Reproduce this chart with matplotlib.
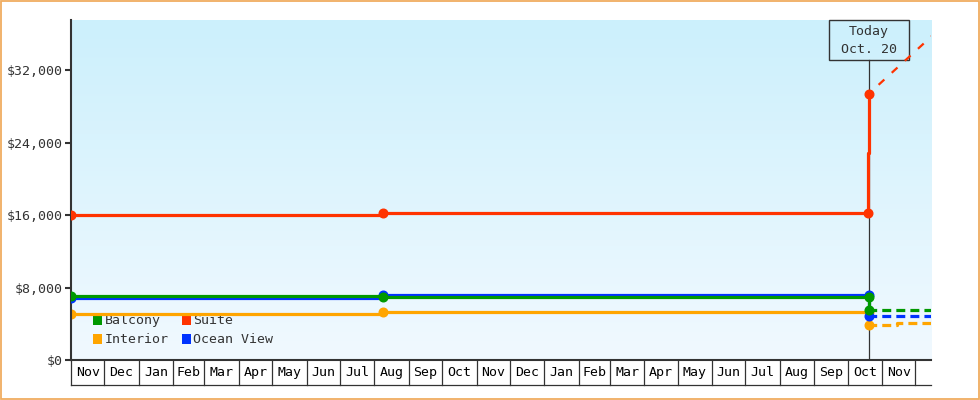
import numpy as np
import pandas as pd
import matplotlib
matplotlib.use('Agg')
import matplotlib.pyplot as plt
import matplotlib.dates as mdates
import matplotlib.transforms as mtransforms
from matplotlib.patches import Rectangle, Patch

# 가격 데이터
balcony_dates = ['2016-11-01', '2017-08-09', '2018-10-20', '2018-10-20']
balcony_vals = [7030, 6960, 6960, 5520]
balcony_fc_dates = ['2018-10-20', '2018-12-20']
balcony_fc_vals = [5520, 5520]

ocean_dates = ['2016-11-01', '2017-08-09', '2018-10-20', '2018-10-20']
ocean_vals = [6800, 7200, 7200, 4890]
ocean_fc_dates = ['2018-10-20', '2018-12-20']
ocean_fc_vals = [4890, 4890]

interior_dates = ['2016-11-01', '2017-08-09', '2018-10-20', '2018-10-20']
interior_vals = [5075, 5300, 5300, 3900]
interior_fc_dates = ['2018-10-20', '2018-11-14', '2018-12-20']
interior_fc_vals = [3900, 4080, 4080]

suite_dates = ['2016-11-01', '2017-08-09', '2018-10-19', '2018-10-19', '2018-10-20']
suite_vals = [16000, 16220, 16220, 22900, 29400]
suite_marks = [0, 1, 2, 4]
suite_fc_dates = ['2018-10-20', '2018-12-20']
suite_fc_vals = [29400, 36250]

today = '2018-10-20'
today_label = 'Today\nOct. 20'
x_start, x_end = '2016-11-01', '2018-12-15'
y_ticks = [0, 8000, 16000, 24000, 32000]

colors = {'Balcony': '#009900', 'Suite': '#ff3300',
          'Interior': '#ffa500', 'Ocean View': '#0033ff'}
dark = '#333333'
font = 'DejaVu Sans Mono'
fs = 9.5

plt.rcParams['font.family'] = [font]

fig = plt.figure(figsize=(9.8, 4), dpi=100)
ax = fig.add_axes([71 / 980, 40 / 400, 860 / 980, 340 / 400])

# 배경 그라데이션
top = np.array([204, 240, 252]) / 255
bot = np.array([241, 249, 255]) / 255
t = np.linspace(0, 1, 256)[:, None]
grad = (top * (1 - t) + bot * t)[:, None, :]
ax.imshow(grad, extent=[0, 1, 0, 1], transform=ax.transAxes, aspect='auto', zorder=0)

d = lambda s: pd.to_datetime(s)

# 오늘 표시선
trans = mtransforms.blended_transform_factory(ax.transData, ax.transAxes)
tx = mdates.date2num(d(today))
box_bottom = 300 / 340
ax.plot([tx, tx], [0, box_bottom], transform=trans, color=dark, lw=0.9, zorder=1)
ax.add_patch(Rectangle((tx - 36, box_bottom), 72, 40 / 340, transform=trans,
                       facecolor='none', edgecolor=dark, lw=1.0, zorder=5, clip_on=False))
ax.text(tx, box_bottom + 19.5 / 340, today_label, transform=trans, ha='center', va='center',
        fontsize=fs, color=dark, linespacing=1.45, zorder=6)

lw = 2.3
ms = 6.2

def series(dates, vals, fc_dates, fc_vals, color, marks, z):
    ax.plot(d(dates), vals, drawstyle='steps-post', color=color, lw=lw, zorder=z,
            solid_capstyle='butt')
    ax.plot(d(dates)[marks], np.array(vals)[marks], 'o', color=color, ms=ms, zorder=z + 0.5)
    ax.plot(d(fc_dates), fc_vals, drawstyle='steps-post', color=color, lw=2.3,
            linestyle=(-4, (2.8, 1.6)), zorder=z, dash_capstyle='butt')

series(interior_dates, interior_vals, interior_fc_dates, interior_fc_vals,
       colors['Interior'], [0, 1, 2, 3], 2)
series(ocean_dates, ocean_vals, ocean_fc_dates, ocean_fc_vals,
       colors['Ocean View'], [0, 1, 2, 3], 3)
series(balcony_dates, balcony_vals, balcony_fc_dates, balcony_fc_vals,
       colors['Balcony'], [0, 1, 2, 3], 4)

ax.plot(d(suite_dates), suite_vals, drawstyle='steps-post', color=colors['Suite'], lw=lw, zorder=5)
ax.plot(d(suite_dates)[suite_marks], np.array(suite_vals)[suite_marks], 'o',
        color=colors['Suite'], ms=ms, zorder=5.5)
ax.plot(d(suite_fc_dates), suite_fc_vals, color=colors['Suite'], lw=1.6,
        linestyle=(-6, (3.5, 4.5)), zorder=5)

ax.set_xlim(d(x_start), d(x_end))
ax.set_ylim(0, 37550)

# 축 스타일
for s in ['top', 'right']:
    ax.spines[s].set_visible(False)
ax.spines['left'].set_color(dark)
ax.spines['left'].set_linewidth(1.5)
ax.spines['bottom'].set_color(dark)
ax.spines['bottom'].set_linewidth(1.5)
ax.set_yticks(y_ticks)
ax.set_yticklabels(['$' + format(v, ',') for v in y_ticks], fontsize=fs, color=dark)
ax.tick_params(axis='y', length=4.3, width=1.5, color=dark, pad=2)
ax.set_xticks([])

# 월 칸
months = pd.date_range(x_start, x_end, freq='MS')
cell_h = 25 / 340
for m in months:
    mx = mdates.date2num(m)
    ax.plot([mx, mx], [0, -cell_h], transform=trans, color=dark, lw=0.9, clip_on=False)
    nxt = mdates.date2num(m + pd.offsets.MonthBegin(1))
    if nxt <= mdates.date2num(d(x_end)):
        ax.text((mx + nxt) / 2, -cell_h / 2, m.strftime('%b'), transform=trans,
                ha='center', va='center', fontsize=fs, color='black')
ax.plot([0, 1], [-cell_h, -cell_h], transform=ax.transAxes, color=dark, lw=0.9, clip_on=False)

# 범례
order = ['Balcony', 'Interior', 'Suite', 'Ocean View']
handles = [Patch(facecolor=colors[k], edgecolor='none', label=k) for k in order]
leg = ax.legend(handles=handles, ncol=2, loc='upper left', bbox_to_anchor=(0.025, 0.134),
                frameon=False, fontsize=fs, handlelength=0.75, handleheight=0.75,
                handletextpad=0.15, columnspacing=1.0, labelspacing=0.45, borderpad=0,
                borderaxespad=0)
for txt in leg.get_texts():
    txt.set_color(dark)
leg.set_zorder(1.5)

# 테두리
fig.patches.append(Rectangle((0.001, 0.002), 0.998, 0.996, transform=fig.transFigure,
                             fill=False, edgecolor='#f0ad60', lw=1.3))

fig.savefig('out.png', dpi=100)
